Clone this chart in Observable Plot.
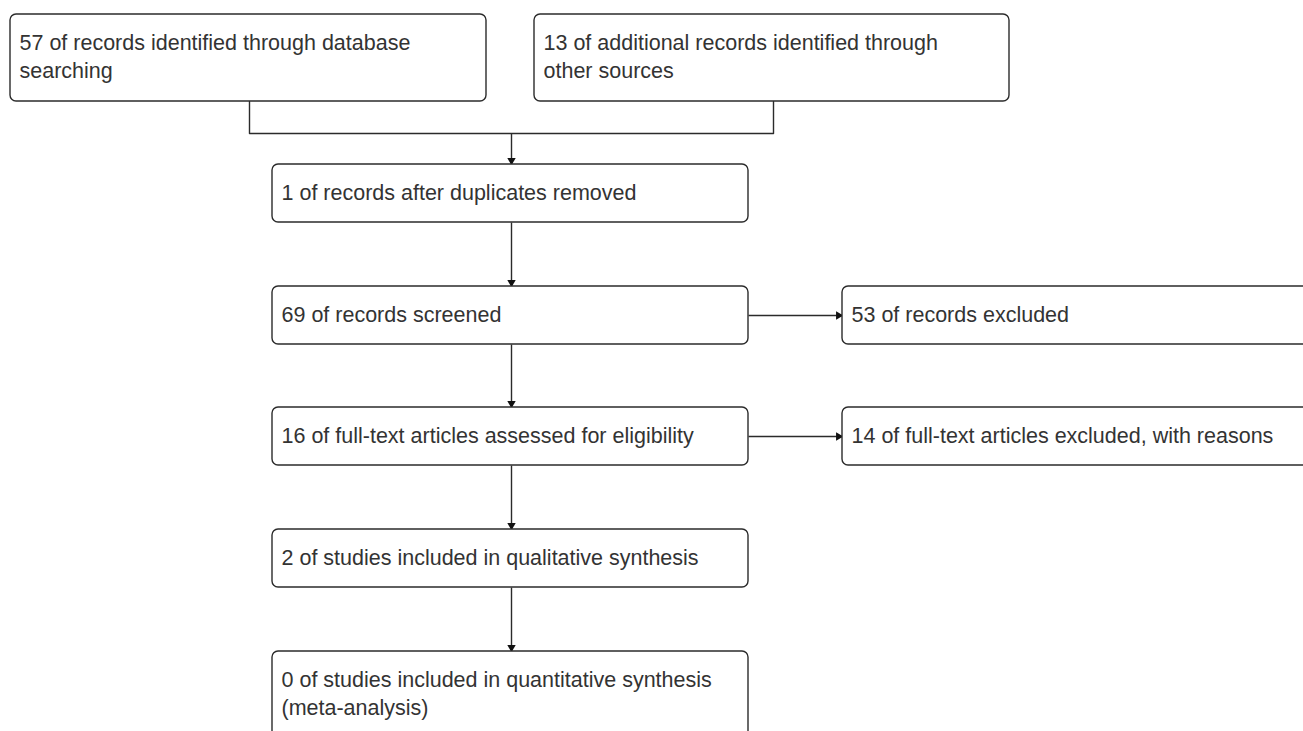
<!DOCTYPE html>
<html>
<head>
<meta charset="utf-8">
<script src="https://cdn.jsdelivr.net/npm/d3@7"></script>
<script src="https://cdn.jsdelivr.net/npm/@observablehq/plot@0.6"></script>
<style>
  html, body { margin: 0; padding: 0; background: #fff; overflow: hidden; }
  #chart svg { overflow: hidden; }
</style>
</head>
<body>
<div id="chart"></div>
<script>
// Box labels (PRISMA flow)
const boxLabels = [
  "57 of records identified through database\nsearching",
  "13 of additional records identified through\nother sources",
  "1 of records after duplicates removed",
  "69 of records screened",
  "53 of records excluded",
  "16 of full-text articles assessed for eligibility",
  "14 of full-text articles excluded, with reasons",
  "2 of studies included in qualitative synthesis",
  "0 of studies included in quantitative synthesis\n(meta-analysis)"
];
// Box layout (diagram coordinates, px)
const boxLeft   = [10, 534, 272, 272, 842, 272, 842, 272, 272];
const boxRight  = [486, 1009, 748, 748, 1330, 748, 1330, 748, 748];
const boxTop    = [14, 14, 164, 286, 286, 407, 407, 529, 651];
const boxBottom = [101, 101, 222, 344, 344, 465, 465, 587, 760];

// Merge connector (no arrowhead)
const mergePath = [[249, 101], [249, 133], [773, 133], [773, 101]];
// Arrows: [x1, y1, x2, y2]
const arrowFrom = [[511, 133], [511, 222], [748, 315], [511, 344], [748, 436], [511, 465], [511, 587]];
const arrowTo   = [[511, 164], [511, 286], [842, 315], [511, 407], [842, 436], [511, 529], [511, 651]];

const boxes = boxLabels.map((label, i) => ({
  label, x1: boxLeft[i], x2: boxRight[i], y1: boxTop[i], y2: boxBottom[i]
}));
const arrows = arrowFrom.map((f, i) => ({x1: f[0], y1: f[1], x2: arrowTo[i][0], y2: arrowTo[i][1]}));
const heads = arrows.map(a => {
  const dx = Math.sign(a.x2 - a.x1), dy = Math.sign(a.y2 - a.y1);
  return {x: a.x2 - dx * 4, y: a.y2 - dy * 4, rot: dx > 0 ? 90 : 180};
});

const lineColor = "#2b2b2b";

const plot = Plot.plot({
  width: 1303,
  height: 731,
  margin: 0,
  style: {fontFamily: "'Liberation Sans', Arial, sans-serif", background: "#fff"},
  x: {domain: [0, 1303], range: [0, 1303], axis: null},
  y: {domain: [0, 731], range: [0, 731], axis: null},
  marks: [
    Plot.line(mergePath, {x: d => d[0], y: d => d[1], stroke: lineColor, strokeWidth: 1.4}),
    Plot.link(arrows, {x1: "x1", y1: "y1", x2: "x2", y2: "y2", stroke: lineColor, strokeWidth: 1.4}),
    Plot.dot(heads, {x: "x", y: "y", symbol: "triangle2", r: 4, fill: "#111", stroke: null, rotate: "rot"}),
    Plot.rect(boxes, {x1: "x1", x2: "x2", y1: "y1", y2: "y2", fill: "#fff", stroke: lineColor, strokeWidth: 1.4, rx: 6}),
    Plot.text(boxes, {
      x: d => d.x1 + 9, y: d => d.y1 + 15, text: "label",
      textAnchor: "start", lineAnchor: "top", lineHeight: 1.33,
      fontSize: 21.5, fill: "#333"
    })
  ]
});
document.getElementById("chart").appendChild(plot);
</script>
</body>
</html>
